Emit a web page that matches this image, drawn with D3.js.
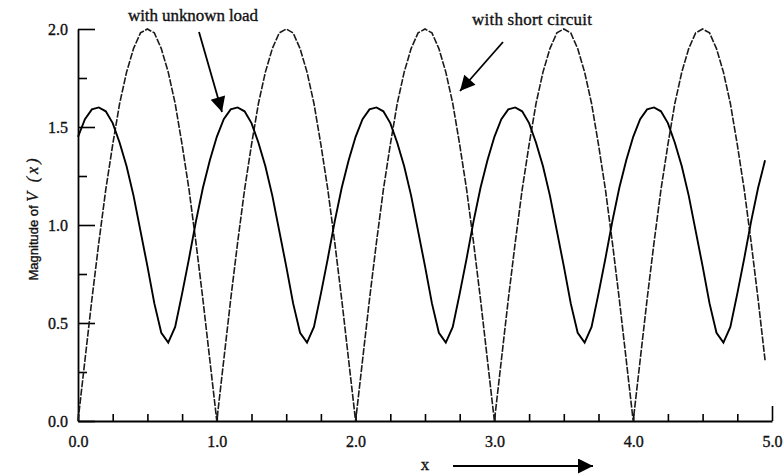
<!DOCTYPE html>
<meta charset="utf-8">
<style>
body { margin: 0; background: #fff; }
svg { display: block; }
</style>
<svg width="784" height="475"></svg>
<script src="https://d3js.org/d3.v7.min.js"></script>
<script>

// sampled every 0.05 in x, from 0.00 to 4.95
var xStep = 0.05;

var shortCircuit = [
  0.00,0.31,0.62,0.91,1.18,1.41,1.62,1.78,1.90,1.98,2.00,1.98,1.90,1.78,1.62,1.41,1.18,0.91,0.62,0.31,
  0.00,0.31,0.62,0.91,1.18,1.41,1.62,1.78,1.90,1.98,2.00,1.98,1.90,1.78,1.62,1.41,1.18,0.91,0.62,0.31,
  0.00,0.31,0.62,0.91,1.18,1.41,1.62,1.78,1.90,1.98,2.00,1.98,1.90,1.78,1.62,1.41,1.18,0.91,0.62,0.31,
  0.00,0.31,0.62,0.91,1.18,1.41,1.62,1.78,1.90,1.98,2.00,1.98,1.90,1.78,1.62,1.41,1.18,0.91,0.62,0.31,
  0.00,0.31,0.62,0.91,1.18,1.41,1.62,1.78,1.90,1.98,2.00,1.98,1.90,1.78,1.62,1.41,1.18,0.91,0.62,0.31
];

var unknownLoad = [
  1.45,1.54,1.59,1.60,1.58,1.52,1.42,1.30,1.15,0.97,0.79,0.60,0.45,0.40,0.48,0.65,0.83,1.02,1.19,1.33,
  1.45,1.54,1.59,1.60,1.58,1.52,1.42,1.30,1.15,0.97,0.79,0.60,0.45,0.40,0.48,0.65,0.83,1.02,1.19,1.33,
  1.45,1.54,1.59,1.60,1.58,1.52,1.42,1.30,1.15,0.97,0.79,0.60,0.45,0.40,0.48,0.65,0.83,1.02,1.19,1.33,
  1.45,1.54,1.59,1.60,1.58,1.52,1.42,1.30,1.15,0.97,0.79,0.60,0.45,0.40,0.48,0.65,0.83,1.02,1.19,1.33,
  1.45,1.54,1.59,1.60,1.58,1.52,1.42,1.30,1.15,0.97,0.79,0.60,0.45,0.40,0.48,0.65,0.83,1.02,1.19,1.33
];

var xTicks = [0,0.25,0.5,0.75,1,1.25,1.5,1.75,2,2.25,2.5,2.75,3,3.25,3.5,3.75,4,4.25,4.5,4.75,5];
var xLabels = [0,1,2,3,4,5];
var yTicks = [0,0.25,0.5,0.75,1,1.25,1.5,1.75,2];
var yLabels = [0,0.5,1,1.5,2];

var serif = "'Liberation Serif', 'Times New Roman', Times, serif";
var sans = "'Liberation Sans', Arial, Helvetica, sans-serif";

var svg = d3.select("svg");

var x = d3.scaleLinear().domain([0, 5]).range([78, 772]);
var y = d3.scaleLinear().domain([0, 2]).range([421, 29]);

var defs = svg.append("defs");
defs.append("marker")
    .attr("id", "head")
    .attr("viewBox", "0 0 10 10")
    .attr("refX", 10).attr("refY", 5)
    .attr("markerUnits", "userSpaceOnUse")
    .attr("markerWidth", 26).attr("markerHeight", 15)
    .attr("orient", "auto")
  .append("path")
    .attr("d", "M0,0 L10,5 L0,10 Z")
    .attr("fill", "#000");

// scanned look: text a bit heavier than plain Liberation
function ink(sel) {
  sel.attr("fill", "#111").attr("stroke", "#111").attr("stroke-width", 0.35);
}

// x axis
var xAxis = d3.axisBottom(x)
    .tickValues(xTicks)
    .tickSizeInner(-7)
    .tickSizeOuter(0)
    .tickFormat(function(d) { return xLabels.indexOf(d) >= 0 ? d3.format(".1f")(d) : ""; });

var gx = svg.append("g")
    .attr("transform", "translate(0," + y(0) + ")")
    .call(xAxis);
gx.select(".domain").attr("stroke-width", 1.8);
gx.selectAll(".tick line").attr("stroke-width", 1.6)
    .attr("y2", function(d) { return d === 5 ? -15 : -7; });
gx.selectAll(".tick text")
    .style("font-family", serif)
    .style("font-size", "16px")
    .attr("dy", 0)
    .attr("y", 26)
    .call(ink);

// y axis
var yAxis = d3.axisLeft(y)
    .tickValues(yTicks)
    .tickSizeInner(-9)
    .tickSizeOuter(0)
    .tickFormat(function(d) { return yLabels.indexOf(d) >= 0 ? d3.format(".1f")(d) : ""; });

var gy = svg.append("g")
    .attr("transform", "translate(" + x(0) + ",0)")
    .call(yAxis);
gy.select(".domain").attr("stroke-width", 1.8);
gy.selectAll(".tick line").attr("stroke-width", 1.6)
    .attr("x2", function(d) { return yLabels.indexOf(d) >= 0 ? 17 : 9; });
gy.selectAll(".tick text")
    .style("font-family", serif)
    .style("font-size", "16px")
    .attr("x", -10)
    .call(ink);

// curves
var line = d3.line()
    .x(function(d, i) { return x(i * xStep); })
    .y(function(d) { return y(d); });

svg.append("path")
    .datum(shortCircuit)
    .attr("fill", "none")
    .attr("stroke", "#1a1a1a")
    .attr("stroke-width", 1.6)
    .attr("stroke-dasharray", "7,1.5")
    .attr("d", line);

svg.append("path")
    .datum(unknownLoad)
    .attr("fill", "none")
    .attr("stroke", "#000")
    .attr("stroke-width", 1.9)
    .attr("d", line);

// y title
var yt = svg.append("text")
    .attr("transform", "translate(38,218) rotate(-90)")
    .attr("text-anchor", "middle")
    .style("font-size", "13px")
    .style("font-family", sans)
    .call(ink);
yt.append("tspan").text("Magnitude of ");
yt.append("tspan")
    .style("font-family", serif)
    .style("font-style", "italic")
    .style("font-size", "16px")
    .style("letter-spacing", "3px")
    .text("V (x)");

// annotations
svg.append("text")
    .attr("x", 128).attr("y", 21)
    .attr("textLength", 130)
    .style("font-family", serif)
    .style("font-size", "17px")
    .call(ink)
    .text("with unknown load");

svg.append("line")
    .attr("x1", 199).attr("y1", 32)
    .attr("x2", 222).attr("y2", 112)
    .attr("stroke", "#000").attr("stroke-width", 1.8)
    .attr("marker-end", "url(#head)");

svg.append("text")
    .attr("x", 472).attr("y", 25)
    .attr("textLength", 120)
    .style("font-family", serif)
    .style("font-size", "17px")
    .call(ink)
    .text("with short circuit");

svg.append("line")
    .attr("x1", 503).attr("y1", 42)
    .attr("x2", 460).attr("y2", 91)
    .attr("stroke", "#000").attr("stroke-width", 1.8)
    .attr("marker-end", "url(#head)");

// x title with arrow
svg.append("text")
    .attr("x", 425).attr("y", 470)
    .attr("text-anchor", "middle")
    .style("font-family", serif)
    .style("font-size", "17px")
    .call(ink)
    .text("x");

svg.append("line")
    .attr("x1", 453).attr("y1", 466)
    .attr("x2", 593).attr("y2", 466)
    .attr("stroke", "#000").attr("stroke-width", 1.8)
    .attr("marker-end", "url(#head)");

</script>
